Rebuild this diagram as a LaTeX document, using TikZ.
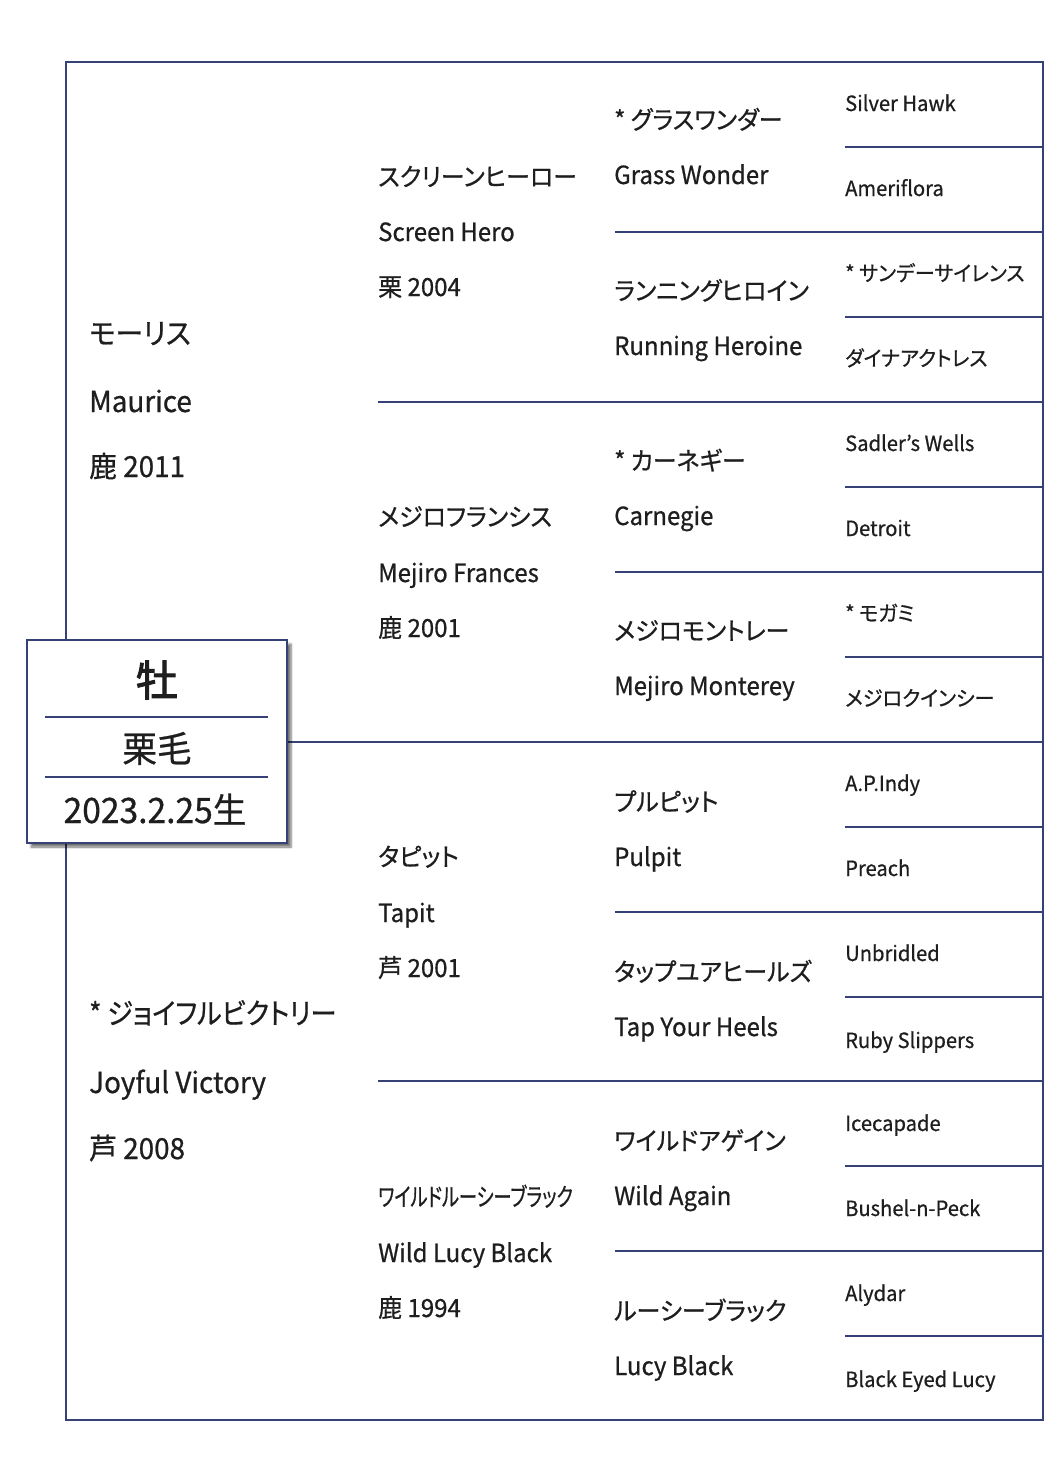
\documentclass[tikz,border=0pt]{standalone}
\usepackage{fontspec}
\setmainfont{Noto Sans CJK JP}[RawFeature=+palt, FakeStretch=0.96, FakeBold=0.7]
\newfontfamily\jpbold{Noto Sans CJK JP}[FakeBold=2.5]
\usetikzlibrary{shadows.blur}
\definecolor{navy}{HTML}{364275}
\definecolor{ink}{HTML}{1E1E1E}
\tikzset{
  rule/.style={draw=navy, line width=2pt},
  cA/.style={anchor=base west, inner sep=0pt, text=ink, font=\fontsize{29}{29}\selectfont},
  cB/.style={anchor=base west, inner sep=0pt, text=ink, font=\fontsize{25}{25}\selectfont},
  cC/.style={anchor=base west, inner sep=0pt, text=ink, font=\fontsize{25}{25}\selectfont},
  cD/.style={anchor=base west, inner sep=0pt, text=ink, font=\fontsize{21}{21}\selectfont},
}
\begin{document}
\begin{tikzpicture}[x=1pt,y=-1pt]
\useasboundingbox (0,0) rectangle (1062,1475);
% frame
\draw[rule] (66,62) rectangle (1043,1420);
% main split
\draw[rule] (287,742) -- (1043,742);
% second generation
\foreach \y in {402,1081} \draw[rule] (378,\y) -- (1043,\y);
% third generation
\foreach \y in {232,572,912,1251} \draw[rule] (615,\y) -- (1043,\y);
% fourth generation
\foreach \y in {147,317,487,657,827,997,1166,1336} \draw[rule] (845,\y) -- (1043,\y);

% central box
\node[draw=navy, line width=2pt, fill=white, minimum width=260pt, minimum height=203pt,
      blur shadow={shadow xshift=4pt, shadow yshift=-4pt, shadow blur steps=6, shadow opacity=55}]
      (box) at (157,741.5) {};
\draw[draw=navy, line width=1.6pt] (45,717) -- (268,717);
\draw[draw=navy, line width=1.6pt] (45,777) -- (268,777);
\node[anchor=base, inner sep=0pt, text=ink, font=\jpbold\fontsize{42}{42}\selectfont] (sex) at (157,696) {牡};
\node[anchor=base, inner sep=0pt, text=ink, font=\fontsize{36}{36}\selectfont] (coat) at (157,762) {栗毛};
\node[anchor=base, inner sep=0pt, text=ink, font=\fontsize{35}{35}\selectfont] (born) at (155,823) {2023.2.25生};

% column 1
\node[cA] (s1) at (89,344) {モーリス};
\node[cA] (s2) at (89,412) {Maurice};
\node[cA] (s3) at (89,477) {鹿 2011};
\node[cA] (d1) at (89,1024) {\scalebox{0.94}[1]{* ジョイフルビクトリー}};
\node[cA] (d2) at (89,1093) {Joyful Victory};
\node[cA] (d3) at (89,1159) {芦 2008};

% column 2
\node[cB] (ss1) at (378,186) {スクリーンヒーロー};
\node[cB] (ss2) at (378,241) {Screen Hero};
\node[cB] (ss3) at (378,296) {栗 2004};
\node[cB] (sd1) at (378,526) {メジロフランシス};
\node[cB] (sd2) at (378,582) {Mejiro Frances};
\node[cB] (sd3) at (378,637) {鹿 2001};
\node[cB] (ds1) at (378,866) {タピット};
\node[cB] (ds2) at (378,922) {Tapit};
\node[cB] (ds3) at (378,977) {芦 2001};
\node[cB] (dd1) at (378,1206) {\scalebox{0.76}[1]{ワイルドルーシーブラック}};
\node[cB] (dd2) at (378,1262) {Wild Lucy Black};
\node[cB] (dd3) at (378,1317) {鹿 1994};

% column 3
\node[cC] (g1a) at (614,129) {* グラスワンダー};
\node[cC] (g1b) at (614,184) {Grass Wonder};
\node[cC] (g2a) at (614,300) {ランニングヒロイン};
\node[cC] (g2b) at (614,355) {Running Heroine};
\node[cC] (g3a) at (614,470) {* カーネギー};
\node[cC] (g3b) at (614,525) {Carnegie};
\node[cC] (g4a) at (614,640) {メジロモントレー};
\node[cC] (g4b) at (614,695) {Mejiro Monterey};
\node[cC] (g5a) at (614,811) {プルピット};
\node[cC] (g5b) at (614,866) {Pulpit};
\node[cC] (g6a) at (614,981) {タップユアヒールズ};
\node[cC] (g6b) at (614,1036) {Tap Your Heels};
\node[cC] (g7a) at (614,1150) {ワイルドアゲイン};
\node[cC] (g7b) at (614,1205) {Wild Again};
\node[cC] (g8a) at (614,1320) {ルーシーブラック};
\node[cC] (g8b) at (614,1375) {Lucy Black};

% column 4
\node[cD] (h1) at (845,111) {Silver Hawk};
\node[cD] (h2) at (845,196) {Ameriflora};
\node[cD] (h3) at (845,281) {* サンデーサイレンス};
\node[cD] (h4) at (845,366) {ダイナアクトレス};
\node[cD] (h5) at (845,451) {Sadler's Wells};
\node[cD] (h6) at (845,536) {Detroit};
\node[cD] (h7) at (845,621) {* モガミ};
\node[cD] (h8) at (845,706) {メジロクインシー};
\node[cD] (h9) at (845,791) {A.P.Indy};
\node[cD] (h10) at (845,876) {Preach};
\node[cD] (h11) at (845,961) {Unbridled};
\node[cD] (h12) at (845,1048) {Ruby Slippers};
\node[cD] (h13) at (845,1131) {Icecapade};
\node[cD] (h14) at (845,1216) {Bushel-n-Peck};
\node[cD] (h15) at (845,1301) {Alydar};
\node[cD] (h16) at (845,1387) {Black Eyed Lucy};
\end{tikzpicture}
\end{document}
